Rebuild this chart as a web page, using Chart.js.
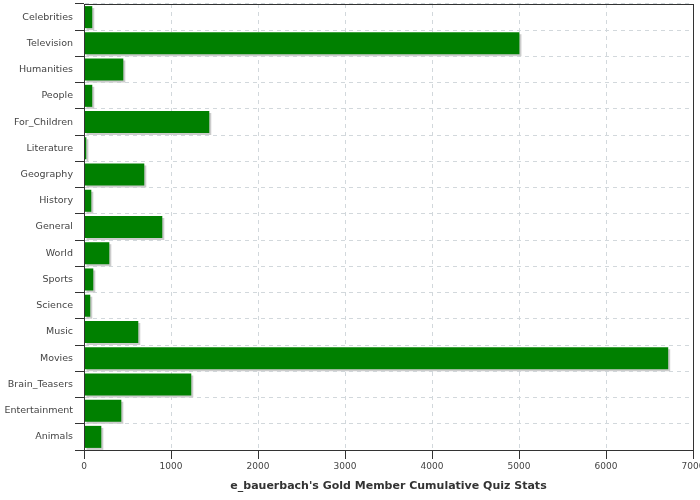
<!DOCTYPE html>
<html>
<head>
<meta charset="utf-8">
<script src="https://cdn.jsdelivr.net/npm/chart.js@4"></script>
<style>
  html, body { margin: 0; padding: 0; background: #fff; }
  #wrap { width: 700px; height: 500px; overflow: hidden; }
</style>
</head>
<body>
<div id="wrap"><canvas id="myChart" width="712" height="500"></canvas></div>
<script>
const categories = ['Celebrities', 'Television', 'Humanities', 'People', 'For_Children', 'Literature',
  'Geography', 'History', 'General', 'World', 'Sports', 'Science', 'Music', 'Movies',
  'Brain_Teasers', 'Entertainment', 'Animals']
const quizStats = [95, 5005, 452, 95, 1440, 27, 693, 84, 900, 291, 107, 72, 624, 6715, 1233, 429, 199]
const xTicks = [0, 1000, 2000, 3000, 4000, 5000, 6000, 7000]

// grey drop shadow behind the bars
const barShadow = {
  id: 'barShadow',
  beforeDatasetsDraw(chart) {
    const c = chart.ctx
    c.save()
    c.shadowColor = '#cccccc'
    c.shadowOffsetX = 2
    c.shadowOffsetY = 2
    c.shadowBlur = 0
  },
  afterDatasetsDraw(chart) {
    chart.ctx.restore()
  }
}

// box around the plot
const plotBorder = {
  id: 'plotBorder',
  afterDraw(chart) {
    const a = chart.chartArea
    const c = chart.ctx
    c.save()
    c.strokeStyle = '#333'
    c.lineWidth = 1
    c.strokeRect(Math.round(a.left) + 0.5, Math.round(a.top) + 0.5, Math.round(a.right - a.left), Math.round(a.bottom - a.top))
    c.restore()
  }
}

const ctx = document.getElementById('myChart')

new Chart(ctx, {
  type: 'bar',
  data: {
    labels: categories,
    datasets: [{
      label: 'Quiz Stats',
      data: quizStats,
      backgroundColor: '#008000',
      borderWidth: 0,
      barPercentage: 0.84,
      categoryPercentage: 1
    }]
  },
  options: {
    indexAxis: 'y',
    responsive: false,
    animation: false,
    layout: { padding: { top: 4, left: 0, right: 19, bottom: 0 } },
    plugins: {
      legend: { display: false },
      tooltip: { enabled: false }
    },
    scales: {
      x: {
        min: 0,
        max: 7000,
        afterBuildTicks: (s) => { s.ticks = xTicks.map(v => ({ value: v })) },
        afterFit: (s) => { s.height = 50 },
        grid: {
          color: (c) => (c.tick && (c.tick.value === 0 || c.tick.value === 7000)) ? 'rgba(0,0,0,0)' : '#d2d8dc',
          tickColor: '#333',
          tickLength: 9
        },
        border: { color: '#333', dash: [4, 4] },
        ticks: {
          color: '#444',
          font: { family: 'DejaVu Sans', size: 9 },
          padding: 2,
          maxRotation: 0,
          callback: (v) => String(v)
        },
        title: {
          display: true,
          text: "e_bauerbach's Gold Member Cumulative Quiz Stats",
          color: '#333',
          font: { family: 'DejaVu Sans', size: 11, weight: 'bold' },
          padding: { top: 0, bottom: 7 }
        }
      },
      y: {
        afterFit: (s) => { s.width = 84; s.paddingTop = 0; s.paddingBottom = 0 },
        grid: {
          offset: true,
          color: '#d2d8dc',
          tickColor: '#333',
          tickLength: 9
        },
        border: { color: '#333', dash: [4, 4] },
        ticks: {
          color: '#444',
          font: { family: 'DejaVu Sans', size: 9.5 },
          padding: 2
        }
      }
    }
  },
  plugins: [barShadow, plotBorder]
})
</script>
</body>
</html>
